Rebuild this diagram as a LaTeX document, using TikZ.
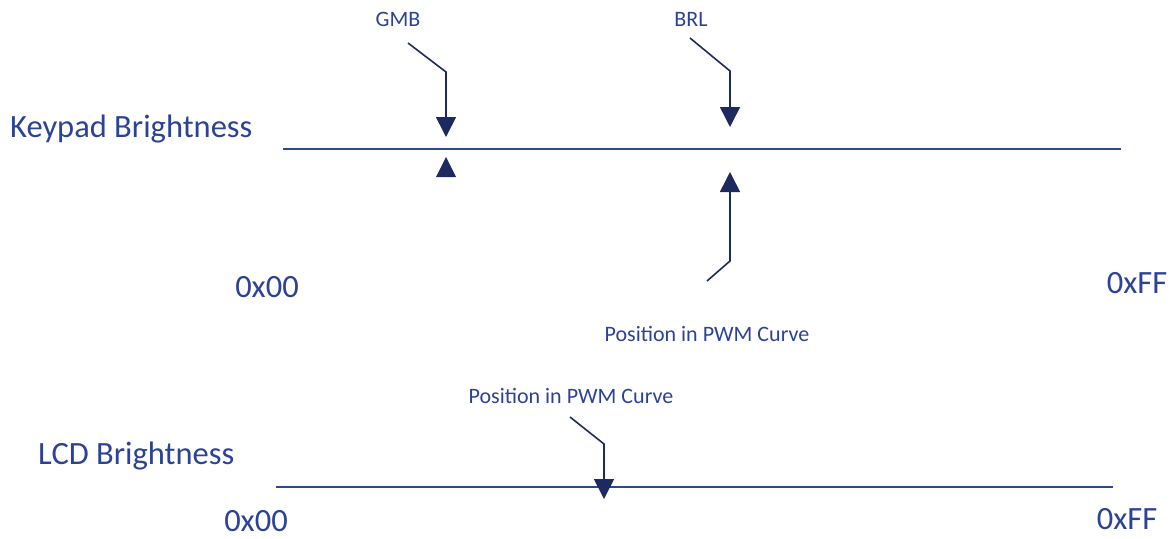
\documentclass[tikz,border=0pt]{standalone}
\usepackage{fontspec}
\setmainfont{Carlito}
\usetikzlibrary{arrows.meta}
\definecolor{txtblue}{RGB}{44,66,150}
\definecolor{lineblue}{RGB}{45,70,150}
\definecolor{navy}{RGB}{28,42,95}
\tikzset{
  bigtxt/.style={text=txtblue, font=\fontsize{32.5}{36}\selectfont, inner sep=0pt},
  smalltxt/.style={text=txtblue, font=\fontsize{22}{26}\selectfont, inner sep=0pt},
  scale line/.style={draw=lineblue, line width=2pt},
  pointer/.style={draw=navy, line width=1.6pt, -{Triangle[width=20pt,length=20pt]}},
  tri/.style={fill=navy, draw=none},
}
\begin{document}
\begin{tikzpicture}[x=1pt,y=-1pt]
\useasboundingbox (0,0) rectangle (1175,538);
% labels
\node[bigtxt, anchor=west] (kb) at (10,129) {Keypad Brightness};
\node[bigtxt, anchor=west] (lcd) at (38,456) {LCD Brightness};
\node[bigtxt] (k00) at (267,287) {0x00};
\node[bigtxt] (kff) at (1137,283) {0xFF};
\node[bigtxt] (l00) at (256,521) {0x00};
\node[bigtxt] (lff) at (1127,519) {0xFF};
\node[smalltxt] (gmb) at (398,19) {GMB};
\node[smalltxt] (brl) at (691,19) {BRL};
\node[smalltxt] (pos1) at (707,334) {Position in PWM Curve};
\node[smalltxt] (pos2) at (571,396) {Position in PWM Curve};
% scale lines
\coordinate (ka) at (283,149);
\coordinate (kz) at (1121,149);
\coordinate (la) at (276,487);
\coordinate (lz) at (1113,487);
\draw[scale line] (ka) -- (kz);
\draw[scale line] (la) -- (lz);
% GMB pointer
\coordinate (g1) at (408,43);
\coordinate (g2) at (446,72);
\coordinate (g3) at (446,137);
\draw[pointer] (g1) -- (g2) -- (g3);
% GMB lower triangle
\coordinate (gt) at (446,157);
\fill[tri] (gt) -- ++(-10,20) -- ++(20,0) -- cycle;
% BRL pointer
\coordinate (b1) at (690,38);
\coordinate (b2) at (730,71);
\coordinate (b3) at (730,127);
\draw[pointer] (b1) -- (b2) -- (b3);
% position pointer (up)
\coordinate (p1) at (707,281);
\coordinate (p2) at (730,261);
\coordinate (p3) at (730,172);
\draw[pointer] (p1) -- (p2) -- (p3);
% LCD pointer
\coordinate (q1) at (570,417);
\coordinate (q2) at (604,444);
\coordinate (q3) at (604,499);
\draw[pointer] (q1) -- (q2) -- (q3);
\end{tikzpicture}
\end{document}
